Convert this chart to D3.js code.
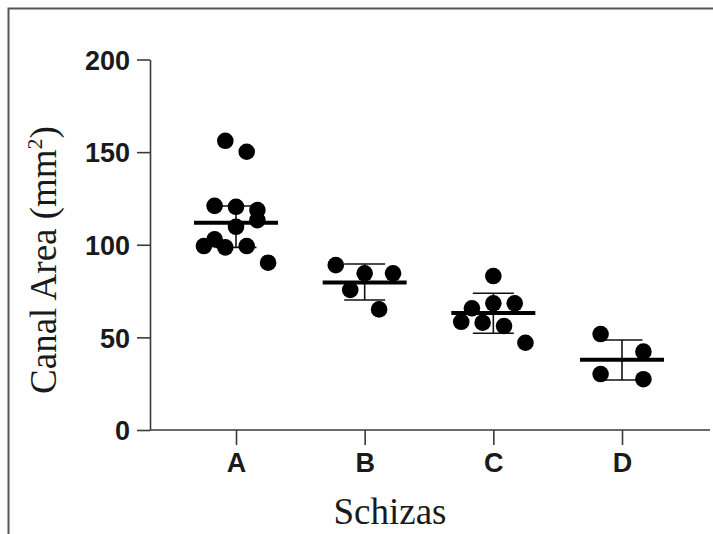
<!DOCTYPE html>
<html>
<head>
<meta charset="utf-8">
<script src="https://cdn.jsdelivr.net/npm/d3@7/dist/d3.min.js"></script>
<style>
  html, body { margin: 0; padding: 0; background: #fff; }
  svg { display: block; }
</style>
</head>
<body>
<div id="chart"></div>
<script>
// groups on the x axis
const categories = ['A', 'B', 'C', 'D'];

const valuesA = [156.1, 150.2, 121.0, 120.5, 118.7, 113.3, 109.7, 102.9, 99.3, 98.6, 99.3, 90.3];
const valuesB = [89.0, 84.6, 84.6, 75.6, 65.1];
const valuesC = [83.1, 65.7, 68.4, 68.4, 58.4, 57.9, 56.1, 47.1];
const valuesD = [51.8, 42.3, 30.2, 27.4];

// scatter column of each dot (GraphPad style spreading)
const columnsA = [-1, 1, -2, 0, 2, 2, 0, -2, -3, -1, 1, 3];
const columnsB = [-2.7, 0, 2.65, -1.35, 1.35];
const columnsC = [0, -2, 0, 2, -3, -1, 1, 3];
const columnsD = [-2, 2, -2, 2];

// summary line and error bar ends, as drawn
const means = [111.9, 79.6, 63.2, 37.9];
const errLow = [98.6, 70.2, 52.2, 27.0];
const errHigh = [120.9, 89.6, 73.8, 48.6];

const yTicks = [0, 50, 100, 150, 200];

const width = 713, height = 534;
const axisLeftX = 150, axisRightX = 710;
const dotR = 8.3;

const svg = d3.select('#chart').append('svg')
    .attr('width', width)
    .attr('height', height);

// outer frame (left and top edges only)
svg.append('path')
    .attr('d', `M8.5,${height} V8.5 H${width}`)
    .attr('fill', 'none')
    .attr('stroke', '#55555f')
    .attr('stroke-width', 2);

const x = d3.scalePoint()
    .domain(categories)
    .range([236, 622]);

const y = d3.scaleLinear()
    .domain([0, 200])
    .range([430, 59.5]);

// column offset in pixels
const col = d3.scaleLinear().domain([0, 1]).range([0, 10.7]);

const tickFont = '"Liberation Sans", Arial, Helvetica, sans-serif';
const axisColor = '#3a3a3a';

// y axis
const gy = svg.append('g')
    .attr('transform', `translate(${axisLeftX},0)`)
    .call(d3.axisLeft(y).tickValues(yTicks).tickSize(13).tickSizeOuter(0).tickPadding(7));
gy.selectAll('path, line').attr('stroke', axisColor).attr('stroke-width', 1.6);
gy.selectAll('text')
    .attr('font-family', tickFont)
    .attr('font-weight', 'bold')
    .attr('font-size', 27)
    .attr('fill', '#1a1a1a')
    .attr('dy', '0.36em');

// x axis
const gx = svg.append('g')
    .attr('transform', `translate(0,${y(0)})`)
    .call(d3.axisBottom(x).tickSize(15).tickSizeOuter(0).tickPadding(8));
gx.select('.domain').remove();
gx.append('line')
    .attr('x1', axisLeftX).attr('x2', axisRightX)
    .attr('stroke', axisColor).attr('stroke-width', 1.6);
gx.selectAll('line').attr('stroke', axisColor).attr('stroke-width', 1.6);
gx.selectAll('text')
    .attr('font-family', tickFont)
    .attr('font-weight', 'bold')
    .attr('font-size', 27)
    .attr('fill', '#1a1a1a');

// axis titles
const serif = '"Liberation Serif", "Times New Roman", Times, serif';
svg.append('text')
    .attr('x', 390)
    .attr('y', 524)
    .attr('text-anchor', 'middle')
    .attr('font-family', serif)
    .attr('font-size', 37)
    .attr('fill', '#1a1a1a')
    .text('Schizas');

const yTitle = svg.append('text')
    .attr('transform', 'translate(56,260) rotate(-90)')
    .attr('text-anchor', 'middle')
    .attr('font-family', serif)
    .attr('font-size', 37)
    .attr('fill', '#1a1a1a');
yTitle.append('tspan').text('Canal Area (mm');
yTitle.append('tspan').attr('font-size', 22).attr('dy', -14).text('2');
yTitle.append('tspan').attr('dy', 14).text(')');

// per-group data
const groups = [
    { values: valuesA, cols: columnsA },
    { values: valuesB, cols: columnsB },
    { values: valuesC, cols: columnsC },
    { values: valuesD, cols: columnsD }
];

const plot = svg.append('g');

categories.forEach((c, i) => {
    const cx = x(c);
    const g = plot.append('g');
    // error bar
    g.append('line')
        .attr('x1', cx).attr('x2', cx)
        .attr('y1', y(errLow[i])).attr('y2', y(errHigh[i]))
        .attr('stroke', '#111').attr('stroke-width', 1.6);
    [errLow[i], errHigh[i]].forEach(v => {
        g.append('line')
            .attr('x1', cx - 20.5).attr('x2', cx + 20.5)
            .attr('y1', y(v)).attr('y2', y(v))
            .attr('stroke', '#111').attr('stroke-width', 1.6);
    });
    // mean line
    g.append('line')
        .attr('x1', cx - 42).attr('x2', cx + 42)
        .attr('y1', y(means[i])).attr('y2', y(means[i]))
        .attr('stroke', '#000').attr('stroke-width', 4);
    // dots
    g.selectAll('circle')
        .data(groups[i].values.map((v, k) => ({ v, k })))
        .join('circle')
        .attr('cx', d => cx + col(groups[i].cols[d.k]))
        .attr('cy', d => y(d.v))
        .attr('r', dotR)
        .attr('fill', '#000');
});
</script>
</body>
</html>
